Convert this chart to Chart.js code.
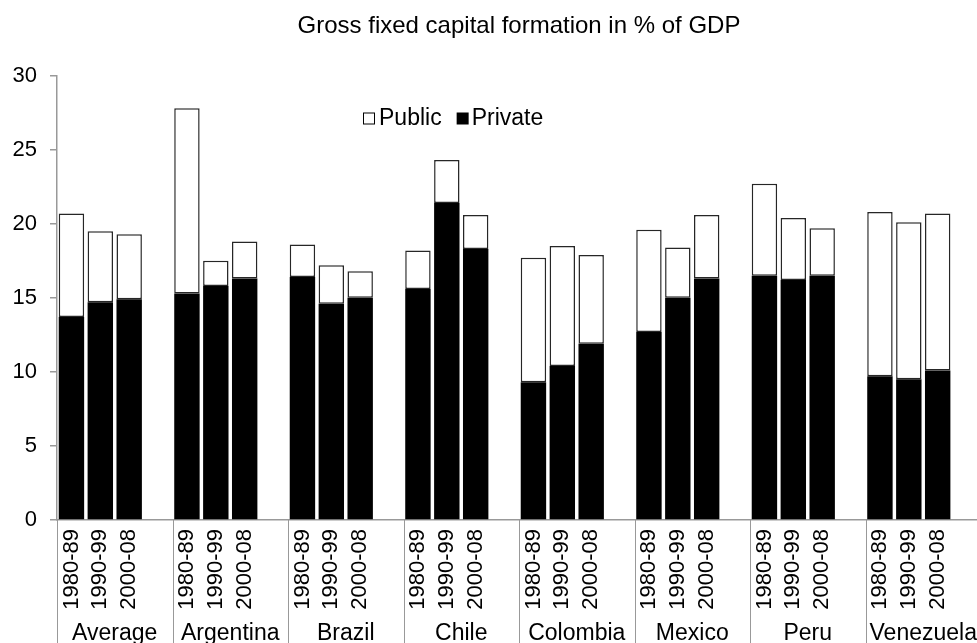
<!DOCTYPE html>
<html>
<head>
<meta charset="utf-8">
<script src="https://cdn.jsdelivr.net/npm/chart.js@4/dist/chart.umd.min.js"></script>
<style>
  html, body { margin: 0; padding: 0; background: #fff; overflow: hidden; }
  #wrap { position: absolute; left: 0; top: 0; width: 985px; height: 643px; }
</style>
</head>
<body>
<div id="wrap"><canvas id="c" width="985" height="643"></canvas></div>
<script>
// Countries (groups) and the three periods shown in each group
const countries = ['Average', 'Argentina', 'Brazil', 'Chile', 'Colombia', 'Mexico', 'Peru', 'Venezuela'];
const periods = ['1980-89', '1990-99', '2000-08'];

// Private investment, % of GDP (country by country, three periods each)
const privateInv = [
  13.7, 14.7, 14.9,   // Average
  15.3, 15.8, 16.3,   // Argentina
  16.4, 14.6, 15.0,   // Brazil
  15.6, 21.4, 18.3,   // Chile
  9.3, 10.4, 11.9,    // Colombia
  12.7, 15.0, 16.3,   // Mexico
  16.5, 16.2, 16.5,   // Peru
  9.7, 9.5, 10.1      // Venezuela
];

// Public investment, % of GDP
const publicInv = [
  7.0, 4.8, 4.4,
  12.5, 1.7, 2.5,
  2.2, 2.6, 1.8,
  2.6, 2.9, 2.3,
  8.4, 8.1, 6.0,
  6.9, 3.4, 4.3,
  6.2, 4.2, 3.2,
  11.1, 10.6, 10.6
];

const yTicks = [0, 5, 10, 15, 20, 25, 30];

// Each group takes four slots: three periods plus an empty spacer slot
const slotLabels = [];
const privSlots = [];
const pubSlots = [];
countries.forEach((c, gi) => {
  periods.forEach((p, pi) => {
    slotLabels.push(p);
    privSlots.push(privateInv[gi * 3 + pi]);
    pubSlots.push(publicInv[gi * 3 + pi]);
  });
  slotLabels.push('');
  privSlots.push(null);
  pubSlots.push(null);
});

const FONT = '"Liberation Sans", Arial, sans-serif';
const AXIS_GREY = '#999999';

// Group separators, country names and the legend
const groupPlugin = {
  id: 'groupLabels',
  afterDraw(chart) {
    const ctx = chart.ctx;
    const xs = chart.scales.x;
    const area = chart.chartArea;
    const slotW = xs.getPixelForValue(1) - xs.getPixelForValue(0);
    ctx.save();
    ctx.strokeStyle = AXIS_GREY;
    ctx.lineWidth = 1;
    countries.forEach((name, gi) => {
      const left = Math.round(xs.getPixelForValue(gi * 4) - slotW / 2) + 0.5;
      ctx.beginPath();
      ctx.moveTo(left, area.bottom);
      ctx.lineTo(left, chart.height);
      ctx.stroke();
      const cx = (xs.getPixelForValue(gi * 4) + xs.getPixelForValue(gi * 4 + 3)) / 2;
      ctx.fillStyle = '#000';
      ctx.font = '23px ' + FONT;
      ctx.textAlign = 'center';
      ctx.textBaseline = 'alphabetic';
      ctx.fillText(name, cx, 640);
    });

    // legend
    ctx.font = '23px ' + FONT;
    ctx.textAlign = 'left';
    ctx.textBaseline = 'middle';
    const ly = 118.5;
    let lx = 363;
    const box = 12;
    ctx.lineWidth = 1;
    ctx.fillStyle = '#fff';
    ctx.strokeStyle = '#000';
    ctx.fillRect(lx, ly - box / 2, box, box);
    ctx.strokeRect(lx + 0.5, ly - box / 2 + 0.5, box - 1, box - 1);
    lx += box + 4;
    ctx.fillStyle = '#000';
    ctx.fillText('Public', lx, ly);
    lx += ctx.measureText('Public').width + 15;
    ctx.fillRect(lx, ly - box / 2, box, box);
    lx += box + 3;
    ctx.fillText('Private', lx, ly);
    ctx.restore();
  }
};

new Chart(document.getElementById('c'), {
  type: 'bar',
  data: {
    labels: slotLabels,
    datasets: [
      {
        label: 'Private',
        data: privSlots,
        backgroundColor: '#000000',
        borderColor: '#000000',
        borderWidth: 0,
        barPercentage: 0.88,
        categoryPercentage: 1.0
      },
      {
        label: 'Public',
        data: pubSlots,
        backgroundColor: '#ffffff',
        borderColor: '#262626',
        borderWidth: 1.5,
        borderSkipped: false,
        barPercentage: 0.88,
        categoryPercentage: 1.0
      }
    ]
  },
  options: {
    responsive: false,
    animation: false,
    devicePixelRatio: 1,
    layout: { padding: { left: 0, right: 4, top: 0, bottom: 0 } },
    plugins: {
      legend: { display: false },
      tooltip: { enabled: false },
      title: {
        display: true,
        text: 'Gross fixed capital formation in % of GDP',
        color: '#000',
        fullSize: false,
        font: { family: FONT, size: 24, weight: 'normal', lineHeight: 1.2 },
        padding: { top: 11.5, bottom: 35.4 }
      }
    },
    scales: {
      x: {
        stacked: true,
        border: { display: true, color: AXIS_GREY, width: 1.5 },
        grid: { display: false, drawTicks: false },
        ticks: {
          autoSkip: false,
          maxRotation: 90,
          minRotation: 90,
          padding: 9,
          color: '#000',
          font: { family: FONT, size: 22 }
        },
        afterFit(scale) {
          scale.height = 123;
          scale.paddingLeft = 0;
          scale.paddingRight = 0;
        }
      },
      y: {
        stacked: true,
        min: 0,
        max: 30,
        afterBuildTicks(scale) { scale.ticks = yTicks.map(v => ({ value: v })); },
        border: { display: true, color: AXIS_GREY, width: 1.5 },
        grid: { drawOnChartArea: false, drawTicks: true, tickLength: 7, color: AXIS_GREY, lineWidth: 1.5 },
        ticks: {
          padding: 13,
          color: '#000',
          font: { family: FONT, size: 22 }
        },
        afterFit(scale) { scale.width = 57; }
      }
    }
  },
  plugins: [groupPlugin]
});
</script>
</body>
</html>
